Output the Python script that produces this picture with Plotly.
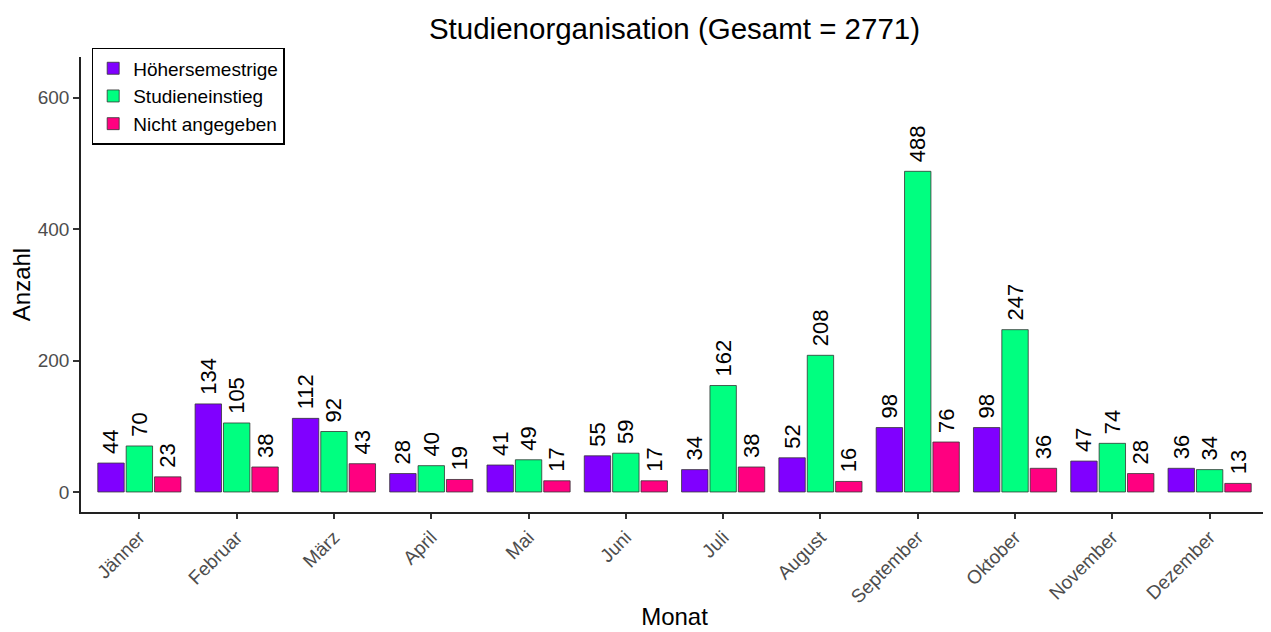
import plotly.graph_objects as go

# monthly counts per group
monate = ["Jänner", "Februar", "März", "April", "Mai", "Juni", "Juli",
          "August", "September", "Oktober", "November", "Dezember"]
hoeher = [44, 134, 112, 28, 41, 55, 34, 52, 98, 98, 47, 36]
einstieg = [70, 105, 92, 40, 49, 59, 162, 208, 488, 247, 74, 34]
nicht_angegeben = [23, 38, 43, 19, 17, 17, 38, 16, 76, 36, 28, 13]

gruppen = [
    ("Höhersemestrige", hoeher, "#8000FF"),
    ("Studieneinstieg", einstieg, "#00FF80"),
    ("Nicht angegeben", nicht_angegeben, "#FF0080"),
]

fig = go.Figure()
for name, vals, col in gruppen:
    fig.add_trace(go.Bar(
        x=monate, y=vals, name=name,
        marker=dict(color=col, line=dict(color="#333333", width=0.8)),
        text=vals, texttemplate="\u00a0%{text}",
        textposition="outside", textangle=-90,
        textfont=dict(size=22, color="black"),
        cliponaxis=False,
    ))

# page body has an 8px margin, so the margins below are shifted by that
fig.update_layout(
    width=1271, height=632,
    barmode="group", bargap=0.125, bargroupgap=0.07,
    plot_bgcolor="white", paper_bgcolor="white",
    font=dict(family="Liberation Sans, Arial, sans-serif", color="black"),
    title=dict(text="Studienorganisation (Gesamt = 2771)", x=0.5, xref="paper",
               y=0.968, yanchor="middle", font=dict(size=29.5, color="black")),
    margin=dict(l=73, r=11, t=49, b=128),
    uniformtext=dict(minsize=22, mode="show"),
    legend=dict(x=0.009, y=1.02, xanchor="left", yanchor="top",
                bordercolor="black", borderwidth=1.5, bgcolor="white",
                font=dict(size=19), tracegroupgap=0, itemwidth=30),
    showlegend=True,
)
fig.update_xaxes(
    title=dict(text="Monat", font=dict(size=24), standoff=2),
    automargin=False,
    range=[-0.6, 11.6], tickangle=-45,
    tickfont=dict(size=19, color="#4D4D4D"),
    showline=True, linecolor="#222222", linewidth=1.5,
    ticks="outside", ticklen=5, tickcolor="#333333", tickwidth=1.5,
)
fig.update_yaxes(
    title=dict(text="Anzahl", font=dict(size=24), standoff=6),
    automargin=False,
    range=[-30.5, 662], tickvals=[0, 200, 400, 600],
    tickfont=dict(size=19, color="#4D4D4D"),
    showgrid=False, zeroline=False,
    showline=True, linecolor="#222222", linewidth=1.5,
    ticks="outside", ticklen=6, tickcolor="#333333", tickwidth=1.5,
)

fig.write_html("out.html")
